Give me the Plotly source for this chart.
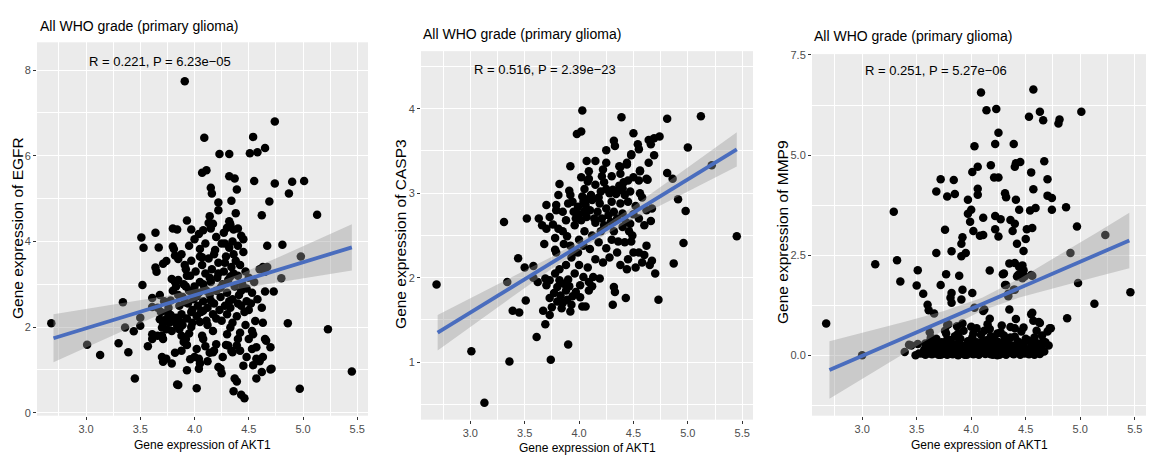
import plotly.graph_objects as go

# ---------------- data ----------------
panel_title = "All WHO grade (primary glioma)"
x_label = "Gene expression of AKT1"
y_labels = ["Gene expression of EGFR", "Gene expression of CASP3", "Gene expression of MMP9"]
stat_labels = ["R = 0.221, P = 6.23e\u221205", "R = 0.516, P = 2.39e\u221223", "R = 0.251, P = 5.27e\u221206"]

x_ticks = [3.0, 3.5, 4.0, 4.5, 5.0, 5.5]
x_tick_text = ["3.0", "3.5", "4.0", "4.5", "5.0", "5.5"]
y_ticks_egfr = [0, 2, 4, 6, 8]
y_ticks_casp3 = [1, 2, 3, 4]
y_ticks_mmp9 = [0.0, 2.5, 5.0, 7.5]
y_tick_text_mmp9 = ["0.0", "2.5", "5.0", "7.5"]

# (AKT1, EGFR)
akt1_egfr = [
    (2.68,2.09),(3.01,1.59),(3.13,1.35),(3.30,1.62),(3.39,1.41),(3.34,2.58),(3.36,1.99),(3.44,1.90),(3.45,0.80),
    (3.50,2.03),(3.50,2.22),(3.52,2.98),(3.51,4.09),(3.53,3.85),(3.57,1.55),(3.61,1.72),(3.61,1.83),(3.61,2.68),
    (3.61,2.47),(3.64,4.20),(3.64,3.39),(3.65,3.29),(3.67,3.86),(3.68,2.75),(3.69,2.35),(3.71,3.48),(3.74,3.54),
    (3.91,7.74),(4.74,6.80),(4.09,6.42),(4.54,6.44),(4.65,6.18),(4.23,6.04),(4.32,6.04),(4.51,6.06),(4.58,6.08),
    (4.07,5.60),(4.11,5.66),(4.32,5.52),(4.37,5.47),(4.55,5.41),(4.74,5.35),(4.90,5.39),(5.01,5.41),(4.87,5.12),
    (4.15,5.25),(4.16,5.12),(4.39,5.21),(4.22,4.91),(4.22,4.73),(4.34,4.95),(4.69,4.93),(4.62,4.61),(4.38,4.66),
    (5.13,4.62),(4.14,4.59),(3.93,4.49),(4.13,4.43),(4.17,4.41),(4.32,4.47),(4.33,4.40),(3.97,4.28),(4.04,4.17),
    (4.08,4.26),(3.80,4.30),(3.84,4.28),(4.30,4.32),(4.36,4.28),(4.40,4.30),(4.43,4.13),(3.80,3.88),(3.81,3.82),
    (4.05,3.82),(4.07,3.63),(4.67,3.90),(4.81,3.92),(3.82,3.67),(3.85,3.59),(4.67,3.40),(4.65,3.29),(4.98,3.65),
    (4.80,3.14),(4.73,2.83),(4.65,2.83),(4.86,2.09),(5.23,1.95),(5.45,0.96),(4.66,1.68),(4.70,1.53),(4.70,1.01),
    (4.57,0.80),(4.97,0.56),
    (3.68,2.18),(3.71,2.10),(3.74,2.19),(3.77,2.10),(3.80,2.14),(3.70,1.99),(3.74,1.95),(3.79,1.91),(3.84,2.03),
    (3.70,1.80),(3.71,1.72),(3.70,1.30),(3.71,1.19),(3.79,1.15),(3.74,1.26),(3.84,0.66),(3.85,0.65),(3.93,0.99),
    (4.02,0.57),(4.02,1.49),(4.00,1.30),(4.04,1.26),(4.05,1.15),(4.04,1.03),(4.07,1.80),(4.08,1.72),(4.17,1.91),
    (4.18,1.45),(4.22,1.07),(4.24,1.03),(4.33,1.99),(4.31,1.57),(4.34,1.45),(4.30,1.83),(4.42,1.87),(4.40,1.72),
    (4.39,1.57),(4.42,1.45),(4.37,0.80),(4.39,0.73),(4.36,0.50),(4.43,0.42),(4.46,0.34),(4.50,1.72),(4.48,1.30),
    (4.54,1.11),(4.53,1.49),(4.56,2.14),(4.63,2.10),(4.53,1.91),(4.54,1.83),(4.57,1.53),(4.63,1.30),(4.65,1.72),
    (4.71,1.03),(4.57,1.26),(4.25,0.92),(4.29,1.58),(4.35,1.41),(4.17,1.41),
    (3.86,1.95),(3.88,1.80),(3.90,1.65),(3.93,1.58),(3.95,1.85),(3.97,2.00),(3.89,2.05),(3.92,1.72),
    (3.66,1.80),(3.82,1.40),(3.88,1.45),(3.96,1.25),(4.10,1.55),(4.12,1.20),(4.14,1.40),(4.20,1.60),(4.26,1.30),
    (4.45,1.10),(4.60,1.20),(4.62,0.95),
    (3.76,2.45),(3.78,2.62),(3.80,2.85),(3.82,3.05),(3.83,2.95),(3.85,3.10),(3.79,3.12),(3.86,2.50),(3.88,2.30),
    (3.89,2.70),(3.90,3.00),(3.91,3.45),(3.92,3.35),(3.93,2.20),(3.94,2.55),(3.95,2.85),(3.96,3.20),(3.97,3.55),
    (3.98,2.40),(3.99,2.65),(4.00,2.95),(4.01,3.30),(4.02,2.25),(4.03,2.50),(4.04,2.80),(4.05,3.05),(4.06,2.35),
    (4.07,3.45),(4.08,2.60),(4.09,2.90),(4.10,3.25),(4.11,2.15),(4.12,2.45),(4.13,3.60),(4.14,2.75),(4.15,3.05),
    (4.16,3.35),(4.17,2.30),(4.18,2.55),(4.19,3.80),(4.20,2.85),(4.21,3.15),(4.22,3.50),(4.23,2.40),(4.24,2.70),
    (4.25,3.95),(4.26,3.00),(4.27,3.30),(4.28,2.50),(4.29,3.65),(4.30,2.80),(4.31,3.10),(4.32,3.85),(4.33,2.45),
    (4.34,3.40),(4.35,2.65),(4.36,3.70),(4.37,2.95),(4.38,3.55),(4.39,2.25),(4.40,3.20),(4.41,2.75),(4.42,3.45),
    (4.43,2.50),(4.44,3.00),(4.45,3.75),(4.46,2.35),(4.47,3.30),(4.48,2.90),(4.50,3.15),(4.52,2.55),(4.55,3.05),
    (4.58,2.65),(4.60,3.35),(4.62,2.45),(4.63,3.40),(4.45,4.05),(4.20,4.10),(4.10,3.95),(3.95,3.90),(4.00,4.05),
    (4.35,4.00),(4.27,4.20),(4.15,4.30),(4.40,3.90),(3.88,3.70),(3.93,3.20),(4.05,3.65),(4.18,3.70),(4.28,3.95),
    (4.12,2.05),(4.25,2.15),(4.35,2.10),(3.98,2.10),(4.05,2.12),(4.47,2.05),(4.50,2.40),(3.75,2.35),(3.72,2.60),
    (3.66,2.45),(3.78,2.28),(3.83,2.22),(3.87,2.12),(3.97,2.35),(4.08,2.38),(4.15,2.62),(4.24,2.92),(4.33,3.18),
    (4.43,2.85),(4.53,2.80),(4.20,2.20),(4.30,2.30),(3.91,2.58),(4.02,2.72),(4.11,2.85),(4.22,3.25),(4.32,2.60),
    (4.40,2.55),(4.48,2.60),(3.85,2.75),(3.92,2.95),(4.28,3.50),(4.36,3.25),(4.14,3.15),(4.08,3.00),(3.99,2.80),
]

# (AKT1, CASP3)
akt1_casp3 = [
    (2.69,1.92),(3.01,1.13),(3.13,0.52),(3.36,1.01),(3.34,1.95),(3.39,1.61),(3.45,1.59),(3.51,1.73),(3.61,1.30),
    (3.74,1.03),(3.90,1.21),(5.45,2.49),(4.96,2.41),(4.87,2.17),(4.70,2.05),(4.73,1.74),(4.43,1.76),(4.31,1.68),
    (4.32,1.89),(4.33,1.83),
    (3.31,2.66),(3.52,2.70),(3.63,2.70),(3.66,2.62),(3.70,2.86),(3.73,2.72),(3.76,2.63),(3.79,2.80),(3.79,2.86),
    (3.81,2.98),(3.82,3.11),(3.85,2.78),
    (4.03,3.98),(3.98,3.70),(4.02,3.73),(4.39,3.90),(4.81,3.88),(5.12,3.91),(5.00,3.54),(4.32,3.62),(4.33,3.56),
    (4.25,3.51),(4.50,3.71),(4.54,3.58),(4.55,3.52),(4.64,3.63),(4.69,3.65),(4.74,3.67),(4.66,3.58),(4.69,3.45),
    (4.48,3.45),(3.92,3.32),(4.07,3.38),(4.15,3.38),(4.09,3.26),(4.37,3.32),(4.44,3.34),(4.21,3.20),(4.23,3.13),
    (4.02,3.19),(4.08,3.14),(4.09,3.17),(4.38,3.23),(4.41,3.13),(4.37,3.09),(4.56,3.26),(4.55,3.15),(4.63,3.16),
    (4.81,3.24),(4.86,3.17),(5.22,3.33),(3.91,3.03),(3.92,2.98),(4.03,2.96),(4.11,2.98),(4.04,2.90),(4.06,2.86),
    (4.47,3.02),(4.56,3.00),(4.91,2.93),(4.98,2.79),(4.67,2.82),(4.66,2.67),(4.25,3.36),(4.38,3.31),(4.48,3.46),
    (4.56,3.27),(4.62,3.17),(4.64,3.36),(4.50,3.19),(4.44,3.36),
    (4.20,3.02),(4.25,3.05),(4.28,3.00),(4.31,3.04),(4.34,2.99),(4.36,3.03),(4.40,3.06),(4.42,2.98),
    (3.94,2.90),(3.95,2.78),(3.97,2.70),(3.99,2.84),(4.00,2.75),(4.02,2.68),(4.05,2.79),(4.07,2.72),(4.08,2.93),
    (4.15,2.65),(4.17,2.78),(4.19,2.88),(4.21,2.70),(4.23,2.62),(4.25,2.82),(4.27,2.74),(4.29,2.66),(4.30,2.90),
    (3.70,2.58),(3.68,2.40),(3.78,2.47),(3.81,2.58),(3.85,2.55),(3.89,2.49),(3.86,2.40),(3.78,2.33),(3.79,2.30),
    (3.92,2.38),(3.95,2.30),(3.93,2.24),(3.99,2.30),(4.04,2.38),(4.10,2.34),(4.18,2.42),(4.25,2.35),(4.28,2.24),
    (4.35,2.30),(4.36,2.43),(4.42,2.42),(4.46,2.55),(4.49,2.50),(4.48,2.43),(4.50,2.30),(4.40,2.60),(4.47,2.64),
    (4.55,2.30),(4.60,2.27),(4.62,2.38),(4.67,2.20),(4.65,2.15),(4.58,2.18),(4.45,2.22),(4.05,2.55),(4.12,2.50),
    (4.20,2.55),(4.30,2.45),(4.32,2.55),(4.00,2.45),(3.96,2.62),(4.15,2.22),(4.22,2.18),(4.38,2.15),(4.52,2.12),
    (4.44,2.10),(4.08,2.12),(4.00,2.15),(3.88,2.15),(3.82,2.10),
    (3.44,2.23),(3.50,2.12),(3.58,2.14),(3.69,1.45),(3.67,1.61),(3.73,1.56),(3.75,1.65),(3.73,1.76),(3.92,1.60),
    (3.93,1.68),(3.89,1.74),(3.84,1.64),(3.83,1.79),(3.88,1.85),(3.80,1.89),(3.70,1.91),(3.69,1.99),(3.73,1.97),
    (4.01,1.77),(4.03,1.66),(4.06,1.66),(4.09,1.85),(4.01,1.91),(4.04,2.01),(4.13,2.01),(4.19,1.99),(4.09,1.95),
    (3.58,2.00),(3.62,1.95),(3.77,1.82),(3.85,1.70),(3.91,1.90),(3.96,2.05),(3.97,1.83),(4.12,1.90),(3.78,2.05),
    (3.82,1.97),(3.86,1.93),(3.90,1.98),(3.94,1.78),(3.80,1.72),
    (3.88,2.68),(3.90,2.88),(4.10,2.80),(4.12,2.92),(4.14,2.70),(4.18,2.95),(4.32,2.78),(4.35,2.70),(4.38,2.88),
    (4.40,2.76),(4.43,2.66),(4.45,2.90),(4.50,2.75),(4.52,2.85),(4.55,2.70),(4.58,2.95),(4.60,2.62),(4.62,2.80),
    (4.45,3.15),(4.30,3.20),(4.15,3.10),(4.22,3.28),(4.05,3.05),
]

# (AKT1, MMP9)
akt1_mmp9 = [
    (2.67,0.80),(3.00,0.01),(3.12,2.28),(3.32,2.38),(3.35,1.85),(3.29,3.59),
    (4.09,6.56),(4.57,6.64),(4.14,6.12),(4.23,6.15),(5.01,6.08),(4.63,6.08),(4.66,5.87),(4.53,5.96),(4.81,5.89),
    (4.80,5.79),(4.25,5.56),(4.03,5.22),(4.22,5.28),(4.39,5.28),(4.18,4.75),(4.01,4.58),(4.06,4.71),(4.41,4.80),
    (4.45,4.83),(4.40,4.71),(4.67,4.85),(4.55,4.57),(4.21,4.44),(4.25,4.44),(3.72,4.40),(3.84,4.38),(4.70,4.40),
    (3.68,4.09),(3.78,3.97),(3.85,4.03),(4.06,4.16),(4.06,4.01),(3.97,3.89),(4.31,4.05),(4.32,3.95),(4.41,3.89),
    (4.57,4.15),(4.70,3.99),(4.74,3.93),(4.00,3.64),(3.97,3.54),(3.99,3.34),(4.11,3.44),(4.22,3.48),(4.27,3.40),
    (4.36,3.38),(4.40,3.29),(4.44,3.64),(4.54,3.62),(4.59,3.68),(4.74,3.64),(4.87,3.70),(4.97,3.22),
    (3.76,3.14),(3.92,2.95),(4.02,3.11),(4.08,2.99),(4.11,3.01),(4.22,3.15),(4.25,2.97),(4.38,3.11),(4.51,3.15),
    (4.56,3.18),(4.50,2.91),
    (3.51,2.13),(3.50,1.75),(3.56,1.54),(3.60,1.27),(3.61,1.13),(3.68,2.56),(3.82,2.60),(3.91,2.48),(3.95,2.56),
    (3.91,2.79),(3.77,2.03),(3.89,1.99),(3.72,1.76),(3.82,1.56),(3.81,1.44),(3.82,1.32),(3.92,1.64),(3.91,1.40),
    (4.01,1.56),(3.66,1.05),(3.79,0.78),(3.87,0.73),(3.62,0.58),(3.43,0.27),(3.39,0.09),(4.17,2.12),(4.29,2.03),
    (4.35,2.30),(4.40,2.31),(4.44,2.21),(4.48,2.13),(4.43,2.01),(4.49,1.97),(4.32,1.76),(4.40,1.64),(4.34,1.48),
    (4.42,2.79),(4.48,2.61),(4.35,1.15),(4.11,1.11),(4.17,0.92),(4.41,0.91),(4.56,1.07),(4.62,0.84),(4.73,0.68),
    (4.88,0.93),(4.91,2.56),(4.98,1.81),(4.55,2.01),(3.45,0.25),(3.51,0.29),(3.49,0.01),(3.52,0.05),(3.78,0.76),
    (4.03,1.19),(4.12,1.15),(4.30,2.05),(4.34,1.54),(4.31,1.76),(4.42,1.97),(4.39,1.64),(4.47,2.25),(4.47,1.93),
    (4.56,1.99),(4.55,1.03),(4.57,0.87),(4.63,0.81),(5.13,1.29),(5.23,3.01),(5.46,1.58),
    (3.55,0.05),(3.57,0.15),(3.58,0.02),(3.60,0.22),(3.61,0.08),(3.62,0.35),(3.63,0.12),(3.64,0.03),(3.65,0.18),
    (3.66,0.28),(3.67,0.06),(3.68,0.42),(3.69,0.14),(3.70,0.02),(3.71,0.25),(3.72,0.09),(3.73,0.33),(3.74,0.04),
    (3.75,0.19),(3.76,0.11),(3.77,0.55),(3.78,0.02),(3.79,0.27),(3.80,0.08),(3.81,0.38),(3.82,0.15),(3.83,0.03),
    (3.84,0.22),(3.85,0.48),(3.86,0.07),(3.87,0.17),(3.88,0.01),(3.89,0.31),(3.90,0.12),(3.91,0.05),(3.92,0.24),
    (3.93,0.62),(3.94,0.09),(3.95,0.18),(3.96,0.02),(3.97,0.36),(3.98,0.13),(3.99,0.06),(4.00,0.27),(4.01,0.45),
    (4.02,0.03),(4.03,0.16),(4.04,0.09),(4.05,0.33),(4.06,0.21),(4.07,0.02),(4.08,0.12),(4.09,0.52),(4.10,0.07),
    (4.11,0.26),(4.12,0.15),(4.13,0.04),(4.14,0.38),(4.15,0.10),(4.16,0.20),(4.17,0.66),(4.18,0.03),(4.19,0.29),
    (4.20,0.13),(4.21,0.44),(4.22,0.06),(4.23,0.19),(4.24,0.01),(4.25,0.34),(4.26,0.11),(4.27,0.58),(4.28,0.05),
    (4.29,0.23),(4.30,0.14),(4.31,0.40),(4.32,0.02),(4.33,0.17),(4.34,0.30),(4.35,0.08),(4.36,0.71),(4.37,0.12),
    (4.38,0.25),(4.39,0.03),(4.40,0.47),(4.41,0.16),(4.42,0.07),(4.43,0.35),(4.44,0.20),(4.45,0.02),(4.46,0.60),
    (4.47,0.11),(4.48,0.28),(4.49,0.05),(4.50,0.15),(4.52,0.38),(4.53,0.03),(4.55,0.24),(4.56,0.08),(4.58,0.45),
    (4.60,0.13),(4.61,0.30),(4.63,0.04),(4.64,0.20),(4.65,0.50),(4.67,0.10),(4.68,0.33),(4.70,0.60),(4.71,0.25),
    (4.72,0.68),
    (3.58,0.30),(3.63,0.45),(3.66,0.10),(3.70,0.30),(3.74,0.20),(3.78,0.40),(3.82,0.05),(3.86,0.28),(3.90,0.42),
    (3.94,0.02),(3.98,0.30),(4.02,0.55),(4.06,0.05),(4.10,0.35),(4.14,0.18),(4.18,0.48),(4.22,0.27),(4.26,0.02),
    (4.30,0.50),(4.34,0.10),(4.38,0.05),(4.42,0.22),(4.46,0.30),(4.50,0.42),(4.54,0.12),(4.58,0.02),(4.62,0.15),
    (4.66,0.35),(3.60,0.05),(3.72,0.02),(3.84,0.12),(3.96,0.08),(4.08,0.25),(4.20,0.02),(4.32,0.28),(4.44,0.08),
    (4.56,0.32),(3.76,0.62),(3.88,0.55),(4.00,0.72),(4.12,0.62),(4.24,0.55),(4.36,0.45),(4.48,0.70),(4.60,0.62),
    (4.15,0.78),(4.28,0.75),(4.40,0.68),(3.92,0.80),(4.05,0.68),
]

# linear-fit line and its 95% band at these AKT1 values
fit_x = [2.70, 3.05, 3.40, 3.75, 4.10, 4.45, 4.80, 5.15, 5.45]
egfr_fit = [1.740, 2.010, 2.280, 2.550, 2.819, 3.089, 3.359, 3.629, 3.860]
egfr_lo = [1.18, 1.58, 1.98, 2.37, 2.70, 2.91, 3.06, 3.20, 3.32]
egfr_hi = [2.30, 2.44, 2.58, 2.73, 2.94, 3.27, 3.66, 4.06, 4.40]
casp3_fit = [1.350, 1.626, 1.902, 2.178, 2.455, 2.731, 3.007, 3.283, 3.520]
casp3_lo = [1.140, 1.465, 1.788, 2.107, 2.405, 2.660, 2.893, 3.122, 3.317]
casp3_hi = [1.560, 1.787, 2.016, 2.249, 2.505, 2.802, 3.121, 3.444, 3.723]
mmp9_fit = [-0.360, 0.051, 0.462, 0.873, 1.284, 1.695, 2.106, 2.518, 2.870]
mmp9_lo = [-1.078, -0.498, 0.077, 0.636, 1.124, 1.458, 1.721, 1.969, 2.176]
mmp9_hi = [0.358, 0.600, 0.847, 1.110, 1.444, 1.932, 2.491, 3.067, 3.564]

# ---------------- styling ----------------
FONT = "Liberation Sans, Arial, sans-serif"
W, H = 1153, 458
PANEL_BG = "#EBEBEB"
LINE_COL = "#4A6DBE"
BAND_COL = "rgba(153,153,153,0.4)"

panels = [
    dict(pts=akt1_egfr, fit=egfr_fit, lo=egfr_lo, hi=egfr_hi,
         px=(37, 368), py=(38, 418), xr=(2.548, 5.599), yr=(-0.069, 8.647),
         yt=y_ticks_egfr, ytt=[str(v) for v in y_ticks_egfr], ydt=1.0,
         title_xy=(38, 21), ytitle_xy=(17, 227), xtitle_xy=(202, 448), stat_xy=(3.68, 8.21)),
    dict(pts=akt1_casp3, fit=casp3_fit, lo=casp3_lo, hi=casp3_hi,
         px=(421, 753), py=(47, 422), xr=(2.547, 5.599), yr=(0.321, 4.681),
         yt=y_ticks_casp3, ytt=[str(v) for v in y_ticks_casp3], ydt=0.5,
         title_xy=(421, 30), ytitle_xy=(401, 233), xtitle_xy=(587, 451), stat_xy=(3.69, 4.47)),
    dict(pts=akt1_mmp9, fit=mmp9_fit, lo=mmp9_lo, hi=mmp9_hi,
         px=(812, 1146), py=(50, 418), xr=(2.54, 5.603), yr=(-1.50, 7.52),
         yt=y_ticks_mmp9, ytt=y_tick_text_mmp9, ydt=1.25,
         title_xy=(812, 32), ytitle_xy=(783, 231), xtitle_xy=(979, 448), stat_xy=(3.68, 7.12)),
]

fig = go.Figure()
annotations = []
layout_axes = {}

for i, p in enumerate(panels, start=1):
    xa = "x" if i == 1 else f"x{i}"
    ya = "y" if i == 1 else f"y{i}"
    xs_pts = [q[0] for q in p["pts"]]
    ys_pts = [q[1] for q in p["pts"]]

    fig.add_trace(go.Scatter(x=xs_pts, y=ys_pts, mode="markers", xaxis=xa, yaxis=ya,
                             marker=dict(color="black", size=8.5, line=dict(width=0)),
                             showlegend=False, hoverinfo="skip"))
    fig.add_trace(go.Scatter(x=fit_x + fit_x[::-1], y=p["hi"] + p["lo"][::-1],
                             fill="toself", fillcolor=BAND_COL, line=dict(width=0),
                             mode="lines", xaxis=xa, yaxis=ya, showlegend=False, hoverinfo="skip"))
    fig.add_trace(go.Scatter(x=fit_x, y=p["fit"], mode="lines", line=dict(color=LINE_COL, width=3.8),
                             xaxis=xa, yaxis=ya, showlegend=False, hoverinfo="skip"))

    xkey = "xaxis" if i == 1 else f"xaxis{i}"
    ykey = "yaxis" if i == 1 else f"yaxis{i}"
    layout_axes[xkey] = dict(
        domain=[p["px"][0] / W, p["px"][1] / W], anchor=ya, range=list(p["xr"]),
        tickmode="array", tickvals=x_ticks, ticktext=x_tick_text,
        ticks="outside", ticklen=3, tickwidth=1, tickcolor="#333333",
        tickfont=dict(family=FONT, size=11, color="#4D4D4D"),
        showgrid=True, gridcolor="white", gridwidth=1.3, zeroline=False, showline=False,
        minor=dict(tick0=2.75, dtick=0.5, showgrid=True, gridcolor="white", gridwidth=0.6, ticks=""),
    )
    layout_axes[ykey] = dict(
        domain=[1 - p["py"][1] / H, 1 - p["py"][0] / H], anchor=xa, range=list(p["yr"]),
        tickmode="array", tickvals=p["yt"], ticktext=p["ytt"],
        ticks="outside", ticklen=3, tickwidth=1, tickcolor="#333333",
        tickfont=dict(family=FONT, size=11, color="#4D4D4D"),
        showgrid=True, gridcolor="white", gridwidth=1.3, zeroline=False, showline=False,
        minor=dict(tick0=p["yt"][0] - p["ydt"], dtick=2 * p["ydt"], showgrid=True,
                   gridcolor="white", gridwidth=0.6, ticks=""),
    )

    annotations.append(dict(text=panel_title, x=p["title_xy"][0] / W, y=1 - p["title_xy"][1] / H,
                            xref="paper", yref="paper", xanchor="left", yanchor="middle",
                            showarrow=False, font=dict(family=FONT, size=14, color="black")))
    annotations.append(dict(text=y_labels[i - 1], x=p["ytitle_xy"][0] / W, y=1 - p["ytitle_xy"][1] / H,
                            xref="paper", yref="paper", xanchor="center", yanchor="middle",
                            textangle=-90, showarrow=False,
                            font=dict(family=FONT, size=15.5, color="black")))
    annotations.append(dict(text=x_label, x=p["xtitle_xy"][0] / W, y=1 - p["xtitle_xy"][1] / H,
                            xref="paper", yref="paper", xanchor="center", yanchor="middle",
                            showarrow=False, font=dict(family=FONT, size=12, color="black")))
    annotations.append(dict(text=stat_labels[i - 1], x=p["stat_xy"][0], y=p["stat_xy"][1],
                            xref=xa, yref=ya, xanchor="center", yanchor="middle",
                            showarrow=False, font=dict(family=FONT, size=13, color="black")))

fig.update_layout(
    width=W, height=H, margin=dict(l=0, r=0, t=0, b=0),
    paper_bgcolor="white", plot_bgcolor=PANEL_BG,
    annotations=annotations, showlegend=False, **layout_axes,
)

fig.write_html("out.html")
